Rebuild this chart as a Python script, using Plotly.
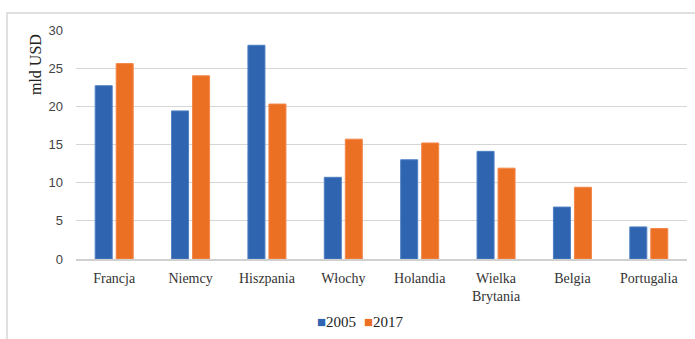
import plotly.graph_objects as go

# Wartości w mld USD
kraje = ["Francja", "Niemcy", "Hiszpania", "Włochy", "Holandia",
         "Wielka<br>Brytania", "Belgia", "Portugalia"]
rok_2005 = [22.7, 19.4, 28.0, 10.7, 13.0, 14.1, 6.8, 4.2]
rok_2017 = [25.6, 24.0, 20.3, 15.7, 15.2, 11.9, 9.4, 4.0]
serie = [("2005", rok_2005, "#2E64B0", "#4F7FC4"),
         ("2017", rok_2017, "#EC7024", "#F2874A")]

serif = "Liberation Serif, Times New Roman, serif"
sans = "Liberation Sans, Arial, sans-serif"

fig = go.Figure()
for nazwa, wartosci, kolor, obrys in serie:
    fig.add_trace(go.Bar(
        x=kraje, y=wartosci, name=nazwa, showlegend=False,
        marker=dict(color=kolor, line=dict(color=obrys, width=1)),
    ))

# Kompaktowa legenda: mały kwadrat tuż przy etykiecie
legend_x = [0.391, 0.468]
for (nazwa, _, kolor, _), lx in zip(serie, legend_x):
    fig.add_annotation(
        text=f"<span style='color:{kolor}'>■</span>{nazwa}",
        xref="paper", yref="paper", x=lx, y=-0.275,
        xanchor="left", yanchor="middle", showarrow=False,
        font=dict(family=serif, size=15, color="#222"))

# Ramka wokół całego wykresu
fig.add_shape(type="rect", xref="paper", yref="paper",
              x0=-0.113, x1=1.02, y0=-0.40, y1=1.074,
              line=dict(color="#d6d6d6", width=1.5), fillcolor="rgba(0,0,0,0)",
              layer="below")

fig.add_annotation(text="mld USD", xref="paper", yref="paper",
                   x=-0.066, y=0.85, textangle=-90, showarrow=False,
                   font=dict(family=serif, size=16, color="#222"),
                   xanchor="center", yanchor="middle")

fig.update_layout(
    width=695, height=339,
    margin=dict(l=76, r=8, t=30, b=80, autoexpand=False),
    paper_bgcolor="white", plot_bgcolor="white",
    barmode="group", bargap=0.45, bargroupgap=0.19,
    showlegend=False,
    xaxis=dict(showgrid=False, showline=True, linecolor="#d0d0d0", linewidth=1.5,
               tickfont=dict(family=serif, size=14, color="#333"), ticks="",
               ticklabelstandoff=5, automargin=False),
    yaxis=dict(range=[0, 30], dtick=5, showgrid=True, gridcolor="#d6d6d6",
               gridwidth=1, zeroline=False, showline=False, ticks="",
               tickfont=dict(family=sans, size=13, color="#444"),
               ticklabelstandoff=12, automargin=False),
)

fig.write_html("out.html")
